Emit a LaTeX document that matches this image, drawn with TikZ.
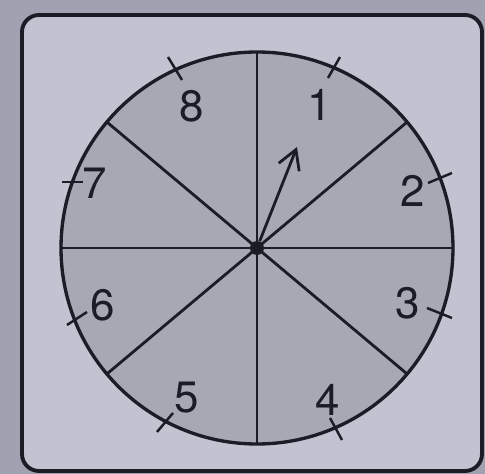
\documentclass[tikz,border=0pt]{standalone}
\usepackage{fontspec}
\setmainfont{TeX Gyre Heros}
\usepackage{tikz}
\usetikzlibrary{arrows.meta,positioning}
\definecolor{spinBg}{RGB}{160,162,178}
\definecolor{boxFill}{RGB}{194,195,209}
\definecolor{wheelFill}{RGB}{168,168,180}
\definecolor{spinInk}{RGB}{28,28,38}

\begin{document}
\begin{tikzpicture}[x=0.02cm,y=0.02cm,
  rim/.style={draw=spinInk,line width=1.9pt},
  spoke/.style={draw=spinInk,line width=1.6pt},
  tickmark/.style={draw=spinInk,line width=1.4pt},
  num/.style={font=\fontsize{25}{27}\selectfont,text=spinInk,inner sep=0pt}]
% --- frame ---
\fill[spinBg] (-257,-226) rectangle (228,248);
\useasboundingbox (-257,-226) rectangle (228,248);
\draw[line width=2.2pt,draw=spinInk,fill=boxFill,rounded corners=0.34cm] (-235,233) rectangle (225,-223);
% --- wheel ---
\draw[rim,fill=wheelFill] (0,0) circle (196);
\foreach \a in {0,40,90,140}
  \draw[spoke] (\a:196) -- (\a+180:196);
\foreach \p/\q in {{(83,191)}/{(71,170)},{(-89,191)}/{(-75,168)},{(171,65)}/{(195,75)},{(-195,66)}/{(-174,66)},
                   {(170,-60)}/{(195,-70)},{(-190,-77)}/{(-170,-64)},{(73,-170)}/{(85,-192)},{(-100,-184)}/{(-84,-165)}}
  \draw[tickmark] \p -- \q;
% --- numbers ---
\node[num] (n1) at (63,143) {1};
\node[num] (n2) at (156,57) {2};
\node[num] (n3) at (151,-55) {3};
\node[num] (n4) at (71,-152) {4};
\node[num] (n5) at (-70,-150) {5};
\node[num] (n6) at (-154,-57) {6};
\node[num] (n7) at (-162,65) {7};
\node[num] (n8) at (-65,142) {8};
% --- pointer ---
\node[circle,fill=spinInk,inner sep=0pt,minimum size=0.28cm] (hub) at (0,0) {};
\coordinate (tip) at (40,101);
\draw[spoke,-{Straight Barb[length=0.38cm,width=0.44cm]}] (hub) -- (tip);
\end{tikzpicture}
\end{document}
